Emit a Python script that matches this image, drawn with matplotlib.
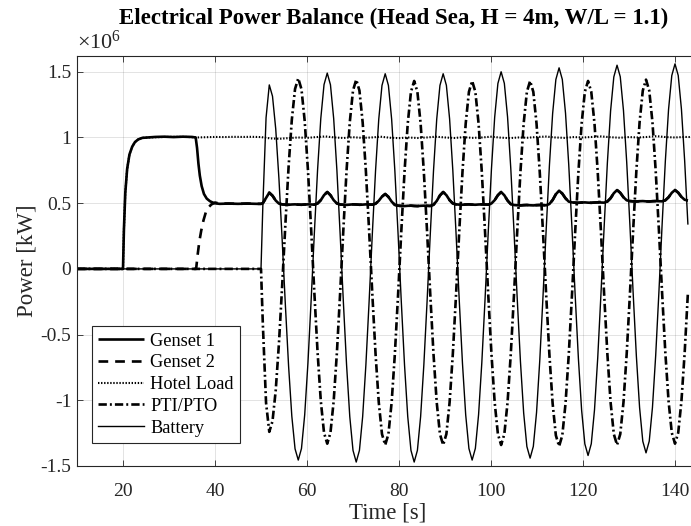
import matplotlib
matplotlib.use("Agg")
import matplotlib.pyplot as plt
import numpy as np
from matplotlib.ticker import FuncFormatter

plt.rcParams['font.family'] = 'serif'
plt.rcParams['font.serif'] = ['Liberation Serif', 'DejaVu Serif']
plt.rcParams['mathtext.fontset'] = 'custom'
plt.rcParams['mathtext.rm'] = 'Liberation Serif'
plt.rcParams['mathtext.it'] = 'Liberation Serif:italic'
plt.rcParams['axes.unicode_minus'] = False
plt.rcParams['lines.scale_dashes'] = False

SCALE = 1e6  # values below are in units of 10^6 (axis multiplier)

# ---------------- data ----------------
title = "Electrical Power Balance (Head Sea, H = 4m, W/L = 1.1)"
labels = ["Genset 1", "Genset 2", "Hotel Load", "PTI/PTO", "Battery"]
xticks = [20, 40, 60, 80, 100, 120, 140]
yticks = [-1.5, -1, -0.5, 0, 0.5, 1, 1.5]

# oscillation sample times (s)
t_pre = [50.0, 50.4, 51.1]
t_grid = list(np.round(51.8 + 0.7 * np.arange(131), 2))

batt_pre = [0.0, 0.48, 1.15]
batt_grid = [1.400,
    1.314, 1.066, 0.686, 0.221, -0.276, -0.741, -1.121, -1.369, -1.455,
    -1.367, -1.110, -0.719, -0.239, 0.274, 0.754, 1.145, 1.402, 1.490,
    1.401, 1.144, 0.750, 0.268, -0.248, -0.730, -1.124, -1.381, -1.470,
    -1.381, -1.124, -0.731, -0.250, 0.265, 0.746, 1.139, 1.396, 1.485,
    1.396, 1.139, 0.746, 0.265, -0.250, -0.731, -1.124, -1.381, -1.470,
    -1.381, -1.124, -0.731, -0.250, 0.265, 0.746, 1.139, 1.396, 1.485,
    1.397, 1.141, 0.750, 0.271, -0.241, -0.720, -1.111, -1.367, -1.455,
    -1.366, -1.109, -0.716, -0.235, 0.280, 0.761, 1.154, 1.411, 1.500,
    1.412, 1.156, 0.765, 0.286, -0.226, -0.705, -1.096, -1.352, -1.440,
    -1.351, -1.093, -0.698, -0.213, 0.303, 0.788, 1.183, 1.441, 1.530,
    1.442, 1.185, 0.793, 0.312, -0.202, -0.683, -1.075, -1.332, -1.420,
    -1.331, -1.073, -0.678, -0.193, 0.323, 0.808, 1.203, 1.461, 1.550,
    1.462, 1.205, 0.813, 0.332, -0.182, -0.663, -1.055, -1.312, -1.400,
    -1.311, -1.054, -0.660, -0.178, 0.338, 0.820, 1.214, 1.471, 1.560,
    1.472, 1.215, 0.823, 0.342]

pti_pre = [0.0, -0.42, -1.02]
pti_grid = [-1.240,
    -1.159, -0.925, -0.568, -0.129, 0.339, 0.778, 1.135, 1.369, 1.450,
    1.367, 1.125, 0.755, 0.302, -0.182, -0.635, -1.005, -1.247, -1.330,
    -1.247, -1.006, -0.638, -0.186, 0.296, 0.748, 1.116, 1.357, 1.440,
    1.357, 1.115, 0.745, 0.292, -0.192, -0.645, -1.015, -1.257, -1.340,
    -1.257, -1.016, -0.648, -0.196, 0.286, 0.738, 1.106, 1.347, 1.430,
    1.347, 1.106, 0.738, 0.286, -0.196, -0.648, -1.016, -1.257, -1.340,
    -1.257, -1.016, -0.648, -0.196, 0.286, 0.738, 1.106, 1.347, 1.430,
    1.347, 1.106, 0.738, 0.286, -0.196, -0.648, -1.016, -1.257, -1.340,
    -1.257, -1.016, -0.648, -0.196, 0.286, 0.738, 1.106, 1.347, 1.430,
    1.347, 1.105, 0.735, 0.282, -0.202, -0.655, -1.025, -1.267, -1.350,
    -1.267, -1.025, -0.655, -0.202, 0.282, 0.735, 1.105, 1.347, 1.430,
    1.347, 1.106, 0.738, 0.286, -0.196, -0.648, -1.016, -1.257, -1.340,
    -1.257, -1.015, -0.645, -0.192, 0.292, 0.745, 1.115, 1.357, 1.440,
    1.357, 1.116, 0.748, 0.296, -0.186, -0.638, -1.006, -1.247, -1.330,
    -1.247, -1.006, -0.638, -0.186]

gen_pre = [0.495, 0.500, 0.540]
gen_grid = [0.580,
    0.557, 0.520, 0.497, 0.491, 0.489, 0.488, 0.490, 0.491, 0.489, 0.488, 0.490, 0.491, 0.490, 0.489,
    0.498, 0.523, 0.561, 0.585,
    0.561, 0.523, 0.498, 0.490, 0.488, 0.487, 0.489, 0.491, 0.490, 0.488, 0.489, 0.491, 0.490, 0.489,
    0.496, 0.518, 0.550, 0.570,
    0.548, 0.512, 0.487, 0.481, 0.479, 0.478, 0.480, 0.481, 0.479, 0.478, 0.480, 0.481, 0.480, 0.479,
    0.488, 0.517, 0.559, 0.585,
    0.561, 0.523, 0.498, 0.491, 0.489, 0.488, 0.490, 0.491, 0.489, 0.488, 0.490, 0.491, 0.490, 0.489,
    0.498, 0.523, 0.561, 0.585,
    0.560, 0.520, 0.493, 0.486, 0.484, 0.483, 0.485, 0.486, 0.484, 0.483, 0.485, 0.486, 0.485, 0.484,
    0.494, 0.524, 0.568, 0.595,
    0.573, 0.537, 0.512, 0.506, 0.504, 0.503, 0.505, 0.506, 0.504, 0.503, 0.505, 0.506, 0.505, 0.504,
    0.513, 0.538, 0.576, 0.600,
    0.579, 0.545, 0.522, 0.516, 0.514, 0.513, 0.515, 0.516, 0.514, 0.513, 0.515, 0.516, 0.515, 0.514,
    0.522, 0.545, 0.579, 0.600,
    0.580, 0.548, 0.526, 0.520]

g1_t_early = [10.0, 20.0, 20.2, 20.5, 20.9, 21.4, 22.0, 22.6, 23.3, 24.2, 25.5, 27.0, 29.0,
              31.0, 33.0, 35.0, 35.8, 36.1, 36.4, 36.7, 37.1, 37.6, 38.2, 38.9, 39.8, 41.0,
              43.0, 45.0, 47.0, 49.0]
g1_v_early = [0.0, 0.0, 0.30, 0.58, 0.76, 0.87, 0.93, 0.965, 0.985, 0.997, 1.0, 1.004, 1.006,
              1.003, 1.006, 1.004, 1.0, 0.92, 0.80, 0.71, 0.63, 0.57, 0.535, 0.515, 0.50, 0.495,
              0.497, 0.495, 0.497, 0.495]

g2_t_early = [10.0, 35.9, 36.2, 36.6, 37.0, 37.5, 38.0, 38.5, 39.2, 40.0, 41.0, 43.0, 45.0,
              47.0, 49.0]
g2_v_early = [0.0, 0.0, 0.10, 0.21, 0.29, 0.37, 0.43, 0.465, 0.49, 0.505, 0.497, 0.497, 0.495,
              0.497, 0.495]

hotel_t = [10.0, 20.0, 20.2, 20.5, 20.9, 21.4, 22.0, 22.6, 23.3, 24.2, 25.5, 28.0, 31.0, 34.0,
           36.0, 38.0, 40.0, 42.0, 44.0, 46.0, 48.0, 50.0, 52.0, 54.0, 56.0, 58.0, 60.0, 62.0,
           64.0, 66.0, 68.0, 70.0, 72.0, 74.0, 76.0, 78.0, 80.0, 82.0, 84.0, 86.0, 88.0, 90.0,
           92.0, 94.0, 96.0, 98.0, 100.0, 102.0, 104.0, 106.0, 108.0, 110.0, 112.0, 114.0,
           116.0, 118.0, 120.0, 122.0, 124.0, 126.0, 128.0, 130.0, 132.0, 134.0, 136.0, 138.0,
           140.0, 142.0, 144.0]
hotel_v = [0.0, 0.0, 0.30, 0.58, 0.76, 0.87, 0.93, 0.965, 0.985, 0.997, 1.0, 1.003, 1.005, 1.004,
           1.0, 1.002, 1.004, 1.003, 1.005, 1.004, 1.005, 1.003, 0.993, 0.99, 0.995, 1.0, 0.997,
           1.003, 1.008, 1.0, 0.996, 1.002, 0.997, 1.0, 1.006, 0.998, 0.995, 1.0, 0.996, 1.0,
           1.006, 1.0, 0.996, 1.002, 0.997, 1.0, 1.006, 0.999, 0.995, 1.0, 0.998, 1.004, 1.007,
           1.0, 0.997, 1.003, 1.0, 1.004, 1.008, 1.002, 0.998, 1.003, 1.0, 1.004, 1.01, 1.003,
           1.0, 1.004, 1.003]

# ---------------- assemble series ----------------
t_osc = t_pre + t_grid
g1_t = g1_t_early + t_osc
g1_v = g1_v_early + gen_pre + gen_grid
g2_t = g2_t_early + t_osc
g2_v = g2_v_early + gen_pre + gen_grid
batt_t = [10.0] + t_osc
batt_v = [0.0] + batt_pre + batt_grid
pti_t = [10.0] + t_osc
pti_v = [0.0] + pti_pre + pti_grid

# ---------------- figure ----------------
W, H = 691, 526
fig = plt.figure(figsize=(W / 100, H / 100), dpi=100)
ax = fig.add_axes([77 / W, 60 / H, (698 - 77) / W, 410 / H])

ink = '#262626'
sc = lambda v: np.asarray(v) * SCALE

ax.plot(g1_t, sc(g1_v), color='k', lw=1.9, solid_capstyle='butt', label=labels[0])
ax.plot(g2_t, sc(g2_v), color='k', lw=1.9, linestyle=(0, (7.0, 5.0)), label=labels[1])
ax.plot(hotel_t, sc(hotel_v), color='k', lw=1.5, linestyle=(0, (1.0, 1.2)), label=labels[2])
ax.plot(pti_t, sc(pti_v), color='k', lw=1.9, linestyle=(0, (6.0, 2.2, 1.4, 2.2)), label=labels[3])
ax.plot(batt_t, sc(batt_v), color='k', lw=1.0, label=labels[4])

ax.set_xlim(10, 145)
ax.set_ylim(-1.5e6, 1.62e6)
ax.set_xticks(xticks)
ax.set_yticks([y * SCALE for y in yticks])
ax.yaxis.set_major_formatter(FuncFormatter(lambda v, p: '%g' % (v / SCALE)))

ax.grid(True, color=ink, alpha=0.15, lw=0.6)
ax.set_axisbelow(True)
for s in ax.spines.values():
    s.set_color(ink)
    s.set_linewidth(0.8)
ax.tick_params(direction='in', length=4.5, width=0.6, colors=ink, labelsize=14,
               top=True, right=True, labelcolor=ink)
ax.tick_params(axis='x', pad=12)
ax.tick_params(axis='y', pad=4)

ax.text(0.0, 1.006, r'$\times10^{6}$', transform=ax.transAxes, ha='left', va='bottom',
        fontsize=16, color=ink)
fig.text(394 / W, 1 - 18 / H, title, ha='center', va='center', fontsize=16.5,
         fontweight='bold', color='k')
ax.set_xlabel('Time [s]', fontsize=16.5, color=ink, labelpad=2)
ax.set_ylabel('Power [kW]', fontsize=16.5, color=ink, labelpad=2)

leg = ax.legend(loc='lower left', bbox_to_anchor=(15 / 621, 23 / 410), fontsize=13.2,
                frameon=True, fancybox=False, framealpha=1, edgecolor=ink,
                handlelength=2.5, handletextpad=0.33, borderpad=0.35, labelspacing=0.26,
                borderaxespad=0.0)
leg.get_frame().set_linewidth(0.8)

fig.savefig('out.png', dpi=100)
